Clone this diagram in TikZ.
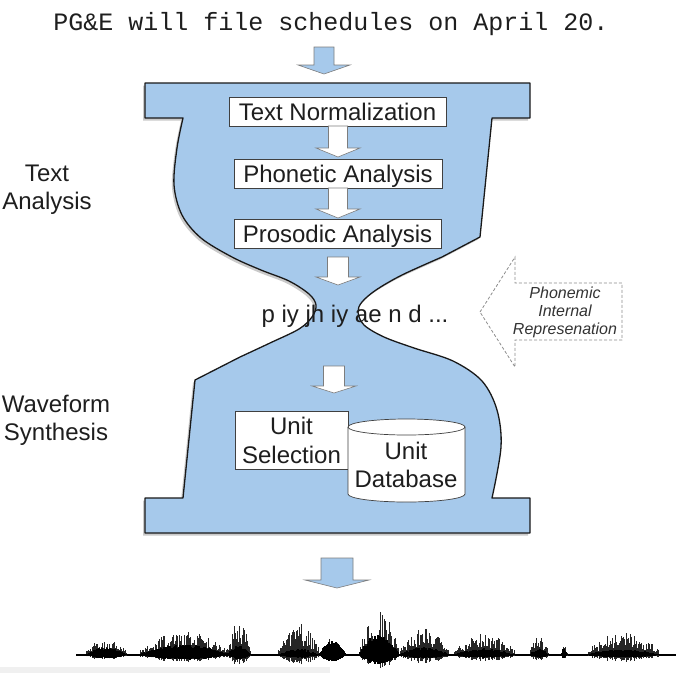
\documentclass[tikz,border=0pt]{standalone}
\usepackage{fontspec}
\setmainfont{Liberation Sans}
\newfontfamily\monofnt{Liberation Mono}
\usetikzlibrary{shadows}
\definecolor{hgblue}{RGB}{166,201,235}
\definecolor{hgline}{RGB}{25,25,25}
\definecolor{txtc}{RGB}{30,30,30}
\definecolor{arrline}{RGB}{125,125,125}
\definecolor{dashc}{RGB}{140,140,140}
\tikzset{
  stagebox/.style={draw=black!75, line width=0.7pt, fill=white, text=txtc,
    font=\fontsize{24}{28}\selectfont, text height=17pt, text depth=0pt,
    minimum height=29pt, inner xsep=0pt, inner ysep=0pt},
  bigtext/.style={text=txtc, font=\fontsize{24}{28}\selectfont, inner sep=0pt},
  flowarrow/.style={fill=white, draw=arrline, line width=0.6pt},
  bluearrow/.style={fill=hgblue, draw=arrline, line width=0.6pt},
  hourglass/.style={fill=hgblue, draw=hgline, line width=1.3pt, line join=round,
    drop shadow={shadow xshift=-2pt, shadow yshift=-2.5pt, opacity=0.35, fill=black!60}},
  spike/.style={line width=0.5pt, black!85},
  body/.style={line width=1.05pt, black},
}
\begin{document}
\begin{tikzpicture}[x=1pt, y=-1pt]
\useasboundingbox (0,0) rectangle (687,673);

% title sentence
\node[text=txtc, font=\monofnt\fontsize{25}{28}\selectfont, inner sep=0pt, anchor=base] (sent) at (331,30) {PG\&E will file schedules on April 20.};

% top arrow
\draw[bluearrow] (314,47) -- (334,47) -- (334,65) -- (350,65) -- (324,74) -- (298,65) -- (314,65) -- cycle;

% hourglass
\draw[hourglass] (145,83) -- (530,83) -- (530,118) -- (492,118) -- (480,237)
  -- plot[smooth, tension=0.55] coordinates {(442,257) (402,275) (376,290) (362,302) (358,312) (364,325) (384,337) (414,348) (453,361) (482,381) (497,410) (501,447) (492,498)}
  -- (530,498) -- (530,533) -- (145,533) -- (145,498) -- (183,498) -- (195,380)
  -- plot[smooth, tension=0.55] coordinates {(240,357) (270,343) (299,329) (312,317) (316,305) (309,294) (289,281) (261,270) (232,257) (201,238) (182,215) (174,185) (177,148) (183,118)}
  -- (145,118) -- cycle;

% text analysis stages
\node[stagebox, minimum width=217pt] (tn) at (337.5,111.5) {Text Normalization};
\draw[flowarrow] (328.5,126) -- (347.5,126) -- (347.5,148) -- (360,148) -- (338,157) -- (316,148) -- (328.5,148) -- cycle;
\node[stagebox, minimum width=208pt] (pa) at (338,173.5) {Phonetic Analysis};
\draw[flowarrow] (328.5,188) -- (347.5,188) -- (347.5,209) -- (360,209) -- (338,218) -- (316,209) -- (328.5,209) -- cycle;
\node[stagebox, minimum width=207pt] (pra) at (337.5,234) {Prosodic Analysis};
\draw[flowarrow] (327.5,257) -- (348.5,257) -- (348.5,277) -- (360,277) -- (338,285) -- (316,277) -- (327.5,277) -- cycle;

% phones
\node[bigtext, anchor=base] (phones) at (355,322) {p iy jh iy ae n d ...};

% lower arrow
\draw[flowarrow] (323.5,366) -- (344.5,366) -- (344.5,386) -- (356,386) -- (334,393) -- (312,386) -- (323.5,386) -- cycle;

% unit selection
\node[stagebox, minimum width=113pt, minimum height=58pt, text height=, text depth=, align=center,
  font=\fontsize{24}{29}\selectfont] (us) at (291.5,440) {Unit\\Selection};

% unit database cylinder
\draw[draw=black!75, line width=0.7pt, fill=white] (348,427) -- (348,494)
  arc[start angle=180, end angle=0, x radius=58.5, y radius=8] -- (465,427)
  arc[start angle=0, end angle=-180, x radius=58.5, y radius=8] -- cycle;
\draw[draw=black!75, line width=0.7pt] (348,427) arc[start angle=180, end angle=0, x radius=58.5, y radius=8];
\node[bigtext, align=center, font=\fontsize{24}{28}\selectfont] (udb) at (406,464.5) {Unit\\Database};

% side labels
\node[bigtext, align=center, anchor=north] (ta) at (47,165) {Text\\Analysis};
\node[bigtext, align=center, anchor=north] (ws) at (56,395) {Waveform\\Synthesis};

% phonemic internal representation (dashed arrow)
\draw[dashc, line width=0.8pt, dash pattern=on 3pt off 2pt, line join=miter]
  (480,312) -- (515,257) -- (515,283) -- (622,283) -- (622,340) -- (515,340) -- (515,367) -- cycle;
\node[text=black!80, font=\itshape\fontsize{16}{18}\selectfont, align=center, inner sep=0pt, anchor=north] (pir) at (565,287) {Phonemic\\Internal\\Represenation};

% bottom arrow
\draw[bluearrow] (321,558) -- (353,558) -- (353,580) -- (369,580) -- (337,588) -- (305,580) -- (321,580) -- cycle;

% waveform
\pgfmathsetseed{11}
\draw[line width=1.2pt] (76,655) -- (676,655);
\foreach \a/\b/\h/\d in {86/126/18/0.45, 140/228/24/0.45, 228/250/38/0.25, 278/318/32/0.2, 320/345/17/0.9, 360/398/44/0.5, 400/448/27/0.3, 454/514/22/0.3, 530/548/21/0.3, 561/567/11/0.6, 588/658/24/0.25} {
  \foreach \x in {\a,...,\b} {
    \pgfmathsetmacro\env{max(sin(180*(\x-\a)/(\b-\a)),0)}
    \pgfmathsetmacro\bd{\h*(0.15+0.85*\env)*\d*(0.6+0.4*rnd)}
    \pgfmathsetmacro\sp{\h*(0.25+0.75*\env)*(0.3+0.7*rnd)}
    \draw[spike] (\x,655+0.3*\sp) -- (\x,655-\sp);
    \draw[body] (\x,655+0.45*\bd) -- (\x,655-\bd);
  }
}
\fill[black!6] (0,667) rectangle (330,673);
\end{tikzpicture}
\end{document}
